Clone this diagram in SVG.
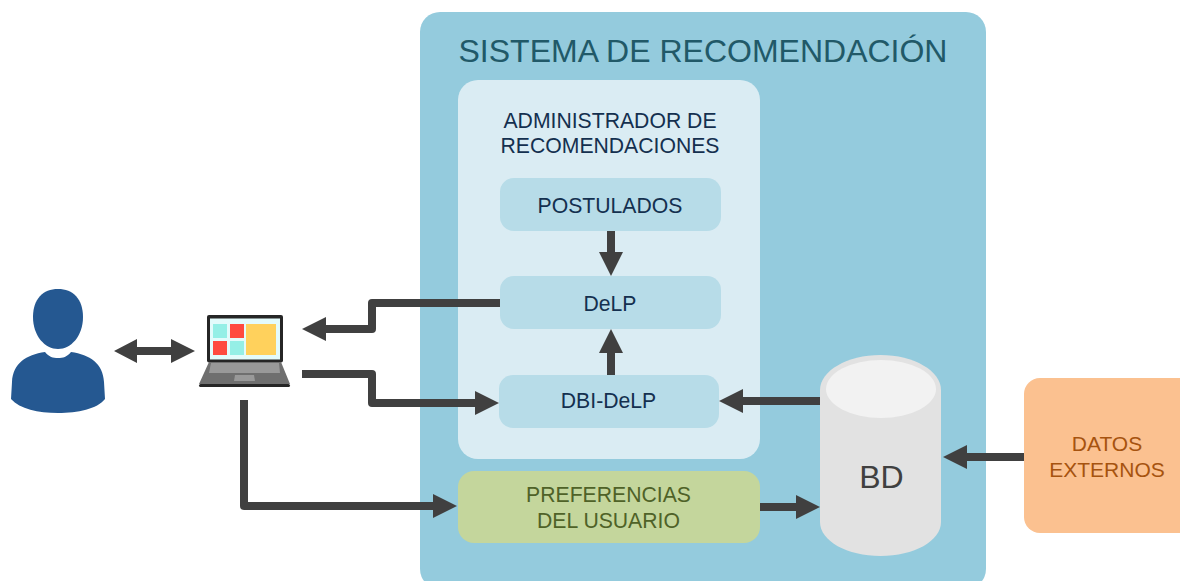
<svg xmlns="http://www.w3.org/2000/svg" width="1180" height="581" viewBox="0 0 1180 581">
<style>
text{font-family:"Liberation Sans",Arial,sans-serif;text-anchor:middle}
.c{fill:none;stroke:#404040;stroke-width:8;stroke-linejoin:round}
.t{font-size:21.2px;fill:#14304f}
.h{fill:#404040}
</style>
<rect width="1180" height="581" fill="#fff"/>
<g id="sistema"><rect x="420" y="12" width="566" height="577" rx="20" fill="#94cbdd"/>
<text x="703" y="62" font-size="32" fill="#215968">SISTEMA DE RECOMENDACIÓN</text></g>
<g id="administrador"><rect x="458" y="80" width="302" height="379" rx="20" fill="#daecf3"/>
<text class="t" x="610" y="128">ADMINISTRADOR DE</text><text class="t" x="610" y="153">RECOMENDACIONES</text></g>
<g id="postulados"><rect x="500" y="178" width="221" height="53" rx="14" fill="#b7dce8"/><text class="t" x="610" y="213">POSTULADOS</text></g>
<g id="delp"><rect x="500" y="276" width="221" height="53" rx="14" fill="#b7dce8"/><text class="t" x="610" y="311">DeLP</text></g>
<g id="dbi-delp"><rect x="499" y="375" width="220" height="53" rx="14" fill="#b7dce8"/><text class="t" x="608.500" y="408">DBI-DeLP</text></g>
<g id="preferencias"><rect x="458" y="471" width="302" height="72" rx="16" fill="#c4d69c"/>
<text x="608.500" y="502" font-size="21.2" fill="#4f6228">PREFERENCIAS</text><text x="608.500" y="528" font-size="21.2" fill="#4f6228">DEL USUARIO</text></g>
<g id="bd"><path d="M820 390C820 371 847 355 880.500 355S941 371 941 390V522C941 541 914 556 880.500 556S820 541 820 522Z" fill="#e2e2e2"/>
<ellipse cx="881" cy="389" rx="55" ry="29" fill="#f2f2f2"/>
<text x="881.500" y="488" font-size="32" fill="#404040">BD</text></g>
<g id="datos"><rect x="1024" y="378" width="180" height="155" rx="16" fill="#fbc190"/>
<text x="1107" y="451" font-size="21" fill="#a6530f">DATOS</text><text x="1107" y="477" font-size="21" fill="#a6530f">EXTERNOS</text></g>
<g id="usuario" fill="#255891">
<path d="M33 317C33 299 43 289 58 289S83 299 83 317C83 336 71 349 58 349S33 336 33 317Z"/>
<path d="M45 352C49 357 53 358 58 358S67 357 71 352C90 355 103 363 104 382L105 399C97 409 78 413 58 413S20 409 11 399L12 382C13 363 26 355 45 352Z"/>
</g>
<g id="portatil">
<rect x="207" y="315" width="76" height="47.500" rx="2" fill="#262626"/>
<rect x="210" y="318.500" width="70" height="41" fill="#e3fbfb"/>
<rect x="213" y="324" width="14" height="14" fill="#95efe6"/><rect x="230" y="324" width="14" height="14" fill="#ff4a3f"/>
<rect x="213" y="341" width="14" height="14" fill="#ff4a3f"/><rect x="230" y="341" width="14" height="14" fill="#95efe6"/>
<rect x="246" y="324" width="30" height="31" fill="#ffd15c"/>
<path d="M209 362H281L290 384H199Z" fill="#6f6f6f"/>
<path d="M211 363H279L280 373H209Z" fill="#999"/>
<path d="M235 375H254L255 381H234Z" fill="#999"/>
<rect x="199" y="384" width="91" height="3" rx="1.500" fill="#262626"/>
</g>
<g id="conectores">
<path class="c" d="M136 351H172"/><path class="h" d="M114 351L137 339V363ZM195 351L171 339V363Z"/>
<path class="c" d="M500 303H372V329H324"/><path class="h" d="M302 329L326 317V341Z"/>
<path class="c" d="M302 374H372V403H477"/><path class="h" d="M499 403L475 391V415Z"/>
<path class="c" d="M244 400V506H435"/><path class="h" d="M457 506L433 494V518Z"/>
<path class="c" d="M611 231V255"/><path class="h" d="M611 276L599 252H623Z"/>
<path class="c" d="M611 375V350"/><path class="h" d="M611 329L599 353H623Z"/>
<path class="c" d="M820 401H740"/><path class="h" d="M719 401L743 389V413Z"/>
<path class="c" d="M1024 457H965"/><path class="h" d="M943 457L967 445V469Z"/>
<path class="c" d="M760 507H798"/><path class="h" d="M820 507L796 495V519Z"/>
</g>
</svg>
